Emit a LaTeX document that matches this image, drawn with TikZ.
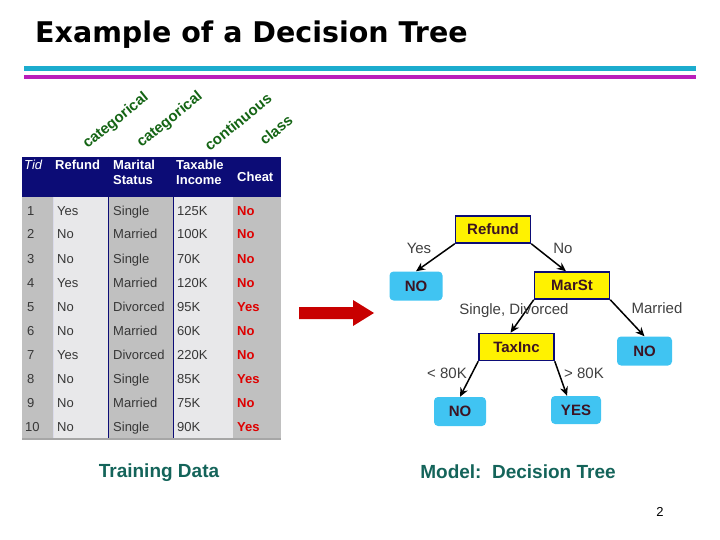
\documentclass[tikz,border=0pt]{standalone}
\usepackage{fontspec}
\setmainfont{Liberation Sans}
\newfontfamily\titlefont{DejaVu Sans}
\usepackage{xcolor}
\usetikzlibrary{arrows.meta,positioning}

\definecolor{navy}{RGB}{12,12,118}
\definecolor{rulecyan}{RGB}{28,172,206}
\definecolor{rulemagenta}{RGB}{186,30,186}
\definecolor{colgrey}{RGB}{192,192,192}
\definecolor{collight}{RGB}{232,232,234}
\definecolor{celltext}{RGB}{55,55,55}
\definecolor{cheatred}{RGB}{222,0,0}
\definecolor{attrgreen}{RGB}{20,100,20}
\definecolor{leafblue}{RGB}{64,196,242}
\definecolor{boxtext}{RGB}{60,20,35}
\definecolor{captionteal}{RGB}{20,100,90}
\definecolor{arrowred}{RGB}{200,0,0}

\begin{document}
\begin{tikzpicture}[x=1pt, y=-1pt,
  cell/.style={anchor=base west, inner sep=0pt, text=celltext, font=\fontsize{13}{15}\selectfont},
  cheat/.style={anchor=base west, inner sep=0pt, text=cheatred, font=\fontsize{13}{15}\selectfont\bfseries},
  head/.style={anchor=base west, inner sep=0pt, text=white, align=left, font=\fontsize{13}{15}\selectfont\bfseries},
  attr/.style={rotate=39, text=attrgreen, font=\fontsize{15}{17}\selectfont\bfseries},
  test/.style={rectangle, draw=navy, line width=1.5pt, fill=yellow, minimum width=75pt, minimum height=27pt, font=\fontsize{15}{17}\selectfont\bfseries, text=boxtext},
  leaf/.style={rectangle, rounded corners=4pt, fill=leafblue, minimum width=53pt, minimum height=29pt, font=\fontsize{15}{17}\selectfont\bfseries, text=boxtext},
  branch/.style={font=\fontsize{15}{17}\selectfont, text=black!75},
  caption/.style={font=\fontsize{19}{21}\selectfont\bfseries, text=captionteal},
  every edge/.style={draw, -{Stealth[length=9pt,width=8pt]}, line width=1.5pt}
]
  \useasboundingbox (0,0) rectangle (720,540);

  % Title and rules
  \node[anchor=base west, inner sep=0pt, font=\titlefont\bfseries\fontsize{28.5}{32}\selectfont] (title) at (35,43) {Example of a Decision Tree};
  \fill[rulecyan] (24,66) rectangle (696,71);
  \fill[rulemagenta] (24,75) rectangle (696,79);

  % Attribute types
  \node[attr] (typeA) at (116,121) {categorical};
  \node[attr] (typeB) at (170,120) {categorical};
  \node[attr] (typeC) at (238,122) {continuous};
  \node[attr] (typeD) at (276,130) {class};

  % Table background
  \fill[navy] (22,157) rectangle (281,197);
  \fill[colgrey] (22,197) rectangle (53,438);
  \fill[collight] (53,197) rectangle (108,438);
  \fill[colgrey] (108,197) rectangle (173,438);
  \fill[collight] (173,197) rectangle (233,438);
  \fill[colgrey] (233,197) rectangle (281,438);
  \draw[white!85!navy, line width=0.6pt] (53,197) -- (53,438);
  \draw[navy, line width=0.8pt] (108,157) -- (108,438);
  \draw[navy, line width=0.8pt] (173,157) -- (173,438);
  \draw[gray!70, line width=1.5pt] (22,439) -- (281,439);

  % Table header
  \node[head, font=\fontsize{13}{15}\selectfont\itshape] (hTid) at (24,170) {Tid};
  \node[head] (hRefund) at (55,170) {Refund};
  \node[head] (hMarital) at (113,185) {Marital\\Status};
  \node[head] (hIncome) at (176,185) {Taxable\\Income};
  \node[head] (hCheat) at (237,182) {Cheat};

  % Table rows
  \node[cell] (t1) at (27,215) {1}; \node[cell] (r1) at (57,215) {Yes}; \node[cell] (m1) at (113,215) {Single}; \node[cell] (i1) at (177,215) {125K}; \node[cheat] (c1) at (237,215) {No};
  \node[cell] (t2) at (27,239) {2}; \node[cell] (r2) at (57,239) {No}; \node[cell] (m2) at (113,239) {Married}; \node[cell] (i2) at (177,239) {100K}; \node[cheat] (c2) at (237,239) {No};
  \node[cell] (t3) at (27,263) {3}; \node[cell] (r3) at (57,263) {No}; \node[cell] (m3) at (113,263) {Single}; \node[cell] (i3) at (177,263) {70K}; \node[cheat] (c3) at (237,263) {No};
  \node[cell] (t4) at (27,287) {4}; \node[cell] (r4) at (57,287) {Yes}; \node[cell] (m4) at (113,287) {Married}; \node[cell] (i4) at (177,287) {120K}; \node[cheat] (c4) at (237,287) {No};
  \node[cell] (t5) at (27,311) {5}; \node[cell] (r5) at (57,311) {No}; \node[cell] (m5) at (113,311) {Divorced}; \node[cell] (i5) at (177,311) {95K}; \node[cheat] (c5) at (237,311) {Yes};
  \node[cell] (t6) at (27,335) {6}; \node[cell] (r6) at (57,335) {No}; \node[cell] (m6) at (113,335) {Married}; \node[cell] (i6) at (177,335) {60K}; \node[cheat] (c6) at (237,335) {No};
  \node[cell] (t7) at (27,359) {7}; \node[cell] (r7) at (57,359) {Yes}; \node[cell] (m7) at (113,359) {Divorced}; \node[cell] (i7) at (177,359) {220K}; \node[cheat] (c7) at (237,359) {No};
  \node[cell] (t8) at (27,383) {8}; \node[cell] (r8) at (57,383) {No}; \node[cell] (m8) at (113,383) {Single}; \node[cell] (i8) at (177,383) {85K}; \node[cheat] (c8) at (237,383) {Yes};
  \node[cell] (t9) at (27,407) {9}; \node[cell] (r9) at (57,407) {No}; \node[cell] (m9) at (113,407) {Married}; \node[cell] (i9) at (177,407) {75K}; \node[cheat] (c9) at (237,407) {No};
  \node[cell] (t10) at (25,431) {10}; \node[cell] (r10) at (57,431) {No}; \node[cell] (m10) at (113,431) {Single}; \node[cell] (i10) at (177,431) {90K}; \node[cheat] (c10) at (237,431) {Yes};

  % Block arrow
  \fill[arrowred] (299,307) -- (353,307) -- (353,300) -- (374,313) -- (353,326) -- (353,319) -- (299,319) -- cycle;

  % Tree nodes
  \node[test] (refund) at (493,229.5) {Refund};
  \node[leaf] (noA) at (416,286) {NO};
  \node[test] (marst) at (572,285.5) {MarSt};
  \node[test] (taxinc) at (516.5,347) {TaxInc};
  \node[leaf, minimum width=55pt] (noB) at (644.5,351) {NO};
  \node[leaf, minimum width=52pt] (noC) at (460,411.5) {NO};
  \node[leaf, minimum width=50pt, minimum height=28pt] (yes) at (576,410) {YES};

  % Tree edges
  \path (refund.south west) edge (noA.north);
  \path (refund.south east) edge ([xshift=-6pt]marst.north);
  \path (marst.south west) edge ([xshift=-6pt]taxinc.north);
  \path (marst.south east) edge (noB.north);
  \path (taxinc.south west) edge (noC.north);
  \path (taxinc.south east) edge ([xshift=-9pt]yes.north);

  % Branch labels
  \node[branch] (lYes) at (419,248) {Yes};
  \node[branch] (lNo) at (563,248) {No};
  \node[branch] (lSingle) at (514,311) {Single, Divorced};
  \node[branch] (lMarried) at (657,308) {Married};
  \node[branch] (lLow) at (447,373) {< 80K};
  \node[branch] (lHigh) at (584,373) {> 80K};

  % Captions
  \node[caption] (train) at (159,473) {Training Data};
  \node[caption] (model) at (518,472) {Model:~~Decision Tree};
  \node[font=\fontsize{13}{15}\selectfont] (page) at (660,512) {2};
\end{tikzpicture}
\end{document}
